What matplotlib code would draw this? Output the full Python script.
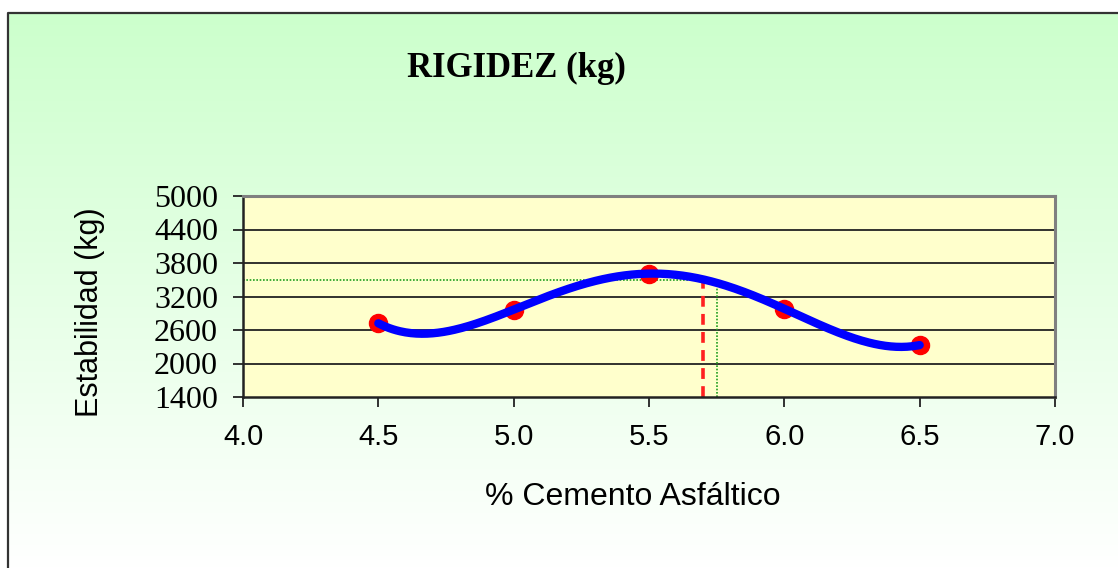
import numpy as np
import matplotlib.pyplot as plt

# data
asfalto = [4.5, 5.0, 5.5, 6.0, 6.5]
rigidez = [2720, 2965, 3610, 2980, 2330]
x_ticks = [4.0, 4.5, 5.0, 5.5, 6.0, 6.5, 7.0]
y_ticks = [1400, 2000, 2600, 3200, 3800, 4400, 5000]
optimo_rojo = 5.7
optimo_verde = 5.75
estab_verde = 3500

W, H = 1118, 568
fig = plt.figure(figsize=(W / 100, H / 100), dpi=100)
fig.patch.set_facecolor("white")

# background: green to white gradient inside a framed box
bg = fig.add_axes([0, 0, 1, 1], zorder=-5)
bg.set_xlim(0, 1)
bg.set_ylim(0, 1)
bg.axis("off")
top = 1 - 13 / H
left = 8 / W
grad = np.linspace(0, 1, 256)[:, None]
c_top = np.array([204, 255, 204]) / 255.0
c_bot = np.array([255, 255, 255]) / 255.0
img = c_top[None, None, :] * (1 - grad[..., None]) + c_bot[None, None, :] * grad[..., None]
bg.imshow(img, extent=(left, 1, 0, top), aspect="auto", origin="upper", zorder=0)
bg.plot([left, left, 1], [0, top, top], color="#333333", lw=1.6, zorder=1)

ax = fig.add_axes([243 / W, 1 - 397 / H, (1055 - 243) / W, (397 - 196) / H])
ax.set_facecolor("#FFFFCC")

# polynomial trendline through the points
coef = np.polyfit(asfalto, rigidez, 4)
xs = np.linspace(4.5, 6.5, 300)
ys = np.polyval(coef, xs)

for yv in y_ticks[1:-1]:
    ax.axhline(yv, color="#222222", lw=1.3, zorder=1)

ax.plot([4.0, optimo_verde], [estab_verde, estab_verde], color="#1E9E1E",
        lw=1.2, ls=(0, (1, 1)), zorder=2)
ax.plot([optimo_verde, optimo_verde], [1400, estab_verde], color="#1E9E1E",
        lw=1.2, ls=(0, (1, 1)), zorder=2)
ax.plot([optimo_rojo, optimo_rojo], [1400, np.polyval(coef, optimo_rojo)],
        color="#FF2020", lw=2.6, ls=(0, (3, 2)), zorder=2)

ax.plot(asfalto, rigidez, "o", color="red", ms=13, zorder=3)
ax.plot(xs, ys, color="blue", lw=6, solid_capstyle="round", zorder=4)

ax.set_xlim(4.0, 7.0)
ax.set_ylim(1400, 5000)
ax.set_xticks(x_ticks)
ax.set_xticklabels(["%.1f" % v for v in x_ticks], fontfamily="Liberation Sans", fontsize=21)
ax.set_yticks(y_ticks)
ax.set_yticklabels([str(v) for v in y_ticks], fontfamily="Liberation Serif", fontsize=23)
ax.tick_params(axis="y", length=7, width=1.3, pad=11, color="#222222")
ax.tick_params(axis="x", length=7, width=1.3, pad=12, color="#222222")

for s in ["left", "bottom"]:
    ax.spines[s].set_color("#222222")
    ax.spines[s].set_linewidth(1.8)
for s in ["top", "right"]:
    ax.spines[s].set_color("#808080")
    ax.spines[s].set_linewidth(2.2)

fig.text(516 / W, 1 - 68 / H, "RIGIDEZ (kg)", ha="center", va="center",
         fontfamily="Liberation Serif", fontweight="bold", fontsize=25)
fig.text(633 / W, 1 - 497 / H, "% Cemento Asfáltico", ha="center", va="center",
         fontfamily="Liberation Sans", fontsize=23)
fig.text(90 / W, 1 - 312 / H, "Estabilidad (kg)", ha="center", va="center",
         rotation=90, fontfamily="Liberation Sans", fontsize=22)

fig.savefig("out.png", dpi=100)
